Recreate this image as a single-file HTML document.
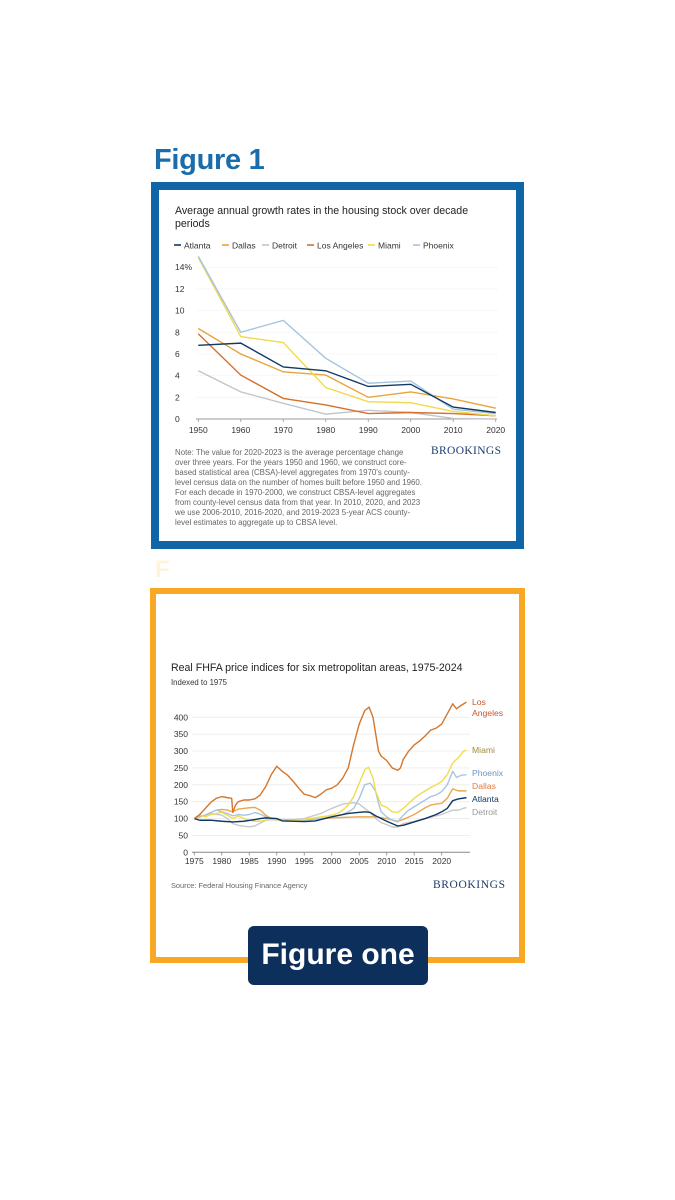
<!DOCTYPE html>
<html><head><meta charset="utf-8">
<style>
body{margin:0;width:675px;height:1200px;background:#fff;position:relative;font-family:"Liberation Sans",sans-serif;overflow:hidden}
.abs{position:absolute}
</style></head><body>
<div class="abs" style="left:154px;top:144px;font-size:29px;font-weight:bold;color:#1a6dab;letter-spacing:-0.3px">Figure 1</div>
<div class="abs" style="left:151px;top:182px;width:357px;height:351px;border:8px solid #0f65a6;background:#fff"></div>
<div class="abs" style="left:155px;top:556px;font-size:24px;font-weight:bold;color:#fff3dc">F</div>
<div class="abs" style="left:150px;top:588px;width:363px;height:363px;border:6px solid #f9a825;background:#fff"></div>
<div class="abs" style="left:248px;top:926px;width:180px;height:59px;border-radius:6px;background:#0d2f5c;color:#fff;font-size:30px;font-weight:bold;text-align:center;line-height:57px">Figure one</div>

<svg class="abs" style="left:0;top:0" width="675" height="1200">
<g id="c1"></g>
<g id="c2"></g>
</svg>

<script>
// ---- Chart 1 data ----
const decades=[1950,1960,1970,1980,1990,2000,2010,2020];
const c1Ticks=[0,2,4,6,8,10,12,14];
const atlanta1=[6.8,7.0,4.8,4.45,3.0,3.2,1.1,0.6];
const dallas1=[8.35,6.0,4.35,4.05,2.0,2.5,1.85,1.0];
const detroit1=[4.45,2.5,1.45,0.45,0.8,0.6,0.05,0.0];
const la1=[7.85,4.05,1.9,1.3,0.5,0.6,0.5,0.3];
const miami1=[14.9,7.6,7.05,2.9,1.6,1.5,0.7,0.3];
const phoenix1=[15.0,8.0,9.1,5.6,3.3,3.5,0.9,0.5];
const c1Names=["Atlanta","Dallas","Detroit","Los Angeles","Miami","Phoenix"];

// ---- Chart 2 data ----
const c2Ticks=[0,50,100,150,200,250,300,350,400];
const c2XTicks=[1975,1980,1985,1990,1995,2000,2005,2010,2015,2020];
const laYears=[1975,1976,1977,1978,1979,1980,1981,1981.8,1982,1982.5,1983,1984,1985,1986,1987,1988,1989,1990,1991,1992,1993,1994,1995,1996,1997,1998,1999,2000,2001,2002,2003,2004,2005,2006,2006.8,2007.5,2008,2008.5,2009,2010,2011,2012,2012.5,2013,2014,2015,2016,2017,2018,2019,2020,2021,2022,2022.7,2023.5,2024.5];
const laVals=[100,112,130,148,160,165,162,160,118,140,150,155,155,158,170,195,230,255,240,228,210,190,172,168,162,172,185,190,200,220,250,320,380,420,430,400,350,300,285,272,250,243,250,275,300,318,330,345,362,368,380,410,440,425,435,445];
const miYears=[1975,1976,1977,1978,1979,1980,1981,1982,1983,1984,1985,1986,1987,1988,1989,1990,1991,1992,1993,1994,1995,1996,1997,1998,1999,2000,2001,2002,2003,2004,2005,2006,2006.7,2007.5,2008,2009,2010,2011,2012,2013,2014,2015,2016,2017,2018,2019,2020,2021,2022,2023,2024,2024.5];
const miVals=[100,110,105,112,115,118,110,100,108,100,95,92,92,96,98,97,93,93,94,95,98,100,102,105,107,110,115,125,140,165,205,245,252,220,180,140,133,120,118,130,145,160,172,182,192,200,210,230,265,280,300,303];
const phYears=[1975,1977,1978,1979,1980,1981,1982,1983,1984,1985,1986,1987,1988,1989,1990,1992,1995,1998,2000,2002,2003,2004,2005,2006,2007,2008,2008.5,2009,2010,2011,2012,2013,2014,2015,2016,2017,2018,2019,2020,2021,2022,2022.7,2023.5,2024.5];
const phVals=[100,110,118,125,120,115,108,112,110,112,118,113,105,100,97,93,95,100,105,112,120,130,160,200,205,180,145,120,105,95,90,110,125,135,145,155,165,170,180,200,240,222,228,230];
const daYears=[1975,1977,1978,1979,1980,1981,1982,1983,1984,1985,1986,1987,1988,1989,1990,1992,1995,2000,2005,2008,2010,2012,2013,2015,2016,2017,2018,2019,2020,2021,2022,2023,2024.5];
const daVals=[100,110,118,125,127,125,120,128,130,132,133,125,110,100,96,94,96,102,105,105,100,92,97,112,122,132,140,143,145,160,188,182,182];
const atYears=[1975,1976,1978,1980,1982,1984,1986,1987,1988,1990,1991,1995,1997,2000,2003,2006,2007,2008,2009,2010,2011,2012,2013,2015,2017,2019,2020,2021,2022,2023,2024.5];
const atVals=[100,95,95,92,90,92,97,100,102,100,93,91,93,105,115,120,118,108,100,92,85,78,80,90,100,112,120,130,153,158,162];
const deYears=[1975,1978,1980,1981,1982,1983,1985,1986,1988,1990,1993,1995,1998,2000,2002,2004,2005,2006,2007,2008,2009,2010,2011,2012,2013,2015,2017,2019,2020,2022,2023,2024.5];
const deVals=[100,115,110,100,85,80,75,78,95,97,97,100,115,130,143,147,143,130,118,100,88,82,75,75,85,92,100,108,112,125,125,133];

const NS="http://www.w3.org/2000/svg";
function mk(parent,tag,attrs,text){const e=document.createElementNS(NS,tag);for(const k in attrs)e.setAttribute(k,attrs[k]);if(text!==undefined)e.textContent=text;parent.appendChild(e);return e;}
const FONT='"Liberation Sans", sans-serif';

// Chart 1
const g1=document.getElementById('c1');
const x1=v=>198.3+(v-1950)*(297.4/70);
const y1=v=>419-v*10.84;
let t=mk(g1,'text',{x:175,y:214,'font-size':10.6,fill:'#222','font-family':FONT},'Average annual growth rates in the housing stock over decade');

t=mk(g1,'text',{x:175,y:227,'font-size':10.6,fill:'#222','font-family':FONT},'periods');

const c1Colors=["#103a66","#e9a43c","#c2c5cc","#d4702b","#f2da4a","#a6c3df"];
const legX=[174,222,262,307,368,413];
c1Names.forEach((n,i)=>{
  const lg=mk(g1,'g',{});
  
  mk(lg,'line',{x1:legX[i],x2:legX[i]+7,y1:245,y2:245,stroke:c1Colors[i],'stroke-width':1.6});
  mk(lg,'text',{x:legX[i]+10,y:248.5,'font-size':8.5,fill:'#333','font-family':FONT},n);
});
c1Ticks.forEach(v=>{
  const gl=mk(g1,'line',{x1:196,x2:497,y1:y1(v),y2:y1(v),stroke:v===0?'#999':'#ececec','stroke-width':v===0?1:0.8,'stroke-dasharray':v===0?'':'1 1'});
  
  const tl=mk(g1,'text',{x:175,y:y1(v)+3,'font-size':8.5,fill:'#333','font-family':FONT},v===14?'14%':String(v));
  
});
decades.forEach(d=>{
  const tl=mk(g1,'text',{x:x1(d),y:433,'font-size':8.5,fill:'#333','text-anchor':'middle','font-family':FONT},String(d));
  
  mk(g1,'line',{x1:x1(d),x2:x1(d),y1:419,y2:422,stroke:'#999','stroke-width':0.8});
});
const s1=[detroit1,la1,dallas1,miami1,phoenix1,atlanta1];
const s1c=["#c2c5cc","#d4702b","#e9a43c","#f2da4a","#a6c3df","#103a66"];
const s1n=["detroit","los-angeles","dallas","miami","phoenix","atlanta"];
s1.forEach((arr,i)=>{
  const p=mk(g1,'polyline',{points:arr.map((v,j)=>x1(decades[j])+','+y1(v)).join(' '),fill:'none',stroke:s1c[i],'stroke-width':1.4});
  
});
const note=["Note: The value for 2020-2023 is the average percentage change","over three years. For the years 1950 and 1960, we construct core-","based statistical area (CBSA)-level aggregates from 1970's county-","level census data on the number of homes built before 1950 and 1960.","For each decade in 1970-2000, we construct CBSA-level aggregates","from county-level census data from that year. In 2010, 2020, and 2023","we use 2006-2010, 2016-2020, and 2019-2023 5-year ACS county-","level estimates to aggregate up to CBSA level."];
const ng=mk(g1,'g',{});
note.forEach((l,i)=>mk(ng,'text',{x:175,y:455+i*10,'font-size':7.9,fill:'#666','font-family':FONT},l));
t=mk(g1,'text',{x:431,y:454,'font-size':11.5,fill:'#1c3b6c','font-family':'"Liberation Serif", serif','textLength':70},'BROOKINGS');


// Chart 2
const g2=document.getElementById('c2');
const x2=v=>194.3+(v-1975)*(247.4/45);
const y2=v=>852.3-v*(135/400);
t=mk(g2,'text',{x:171,y:671,'font-size':10.6,fill:'#222','font-family':FONT},'Real FHFA price indices for six metropolitan areas, 1975-2024');

t=mk(g2,'text',{x:171,y:685,'font-size':7.8,fill:'#333','font-family':FONT},'Indexed to 1975');

c2Ticks.forEach(v=>{
  const gl=mk(g2,'line',{x1:192,x2:470,y1:y2(v),y2:y2(v),stroke:v===0?'#888':'#ececec','stroke-width':v===0?1:0.8});
  
  const tl=mk(g2,'text',{x:188,y:y2(v)+3,'font-size':8.5,fill:'#333','text-anchor':'end','font-family':FONT},String(v));
  
});
c2XTicks.forEach(d=>{
  mk(g2,'line',{x1:x2(d),x2:x2(d),y1:852.3,y2:855.5,stroke:'#888','stroke-width':0.8});
  const tl=mk(g2,'text',{x:x2(d),y:864,'font-size':8.5,fill:'#333','text-anchor':'middle','font-family':FONT},String(d));
  
});
const s2=[[deYears,deVals,"#c7c9cf","detroit"],[daYears,daVals,"#eaa84a","dallas"],[phYears,phVals,"#a9c5e0","phoenix"],[miYears,miVals,"#f0dc4c","miami"],[atYears,atVals,"#0f3762","atlanta"],[laYears,laVals,"#d4762c","los-angeles"]];
s2.forEach(s=>{
  const p=mk(g2,'polyline',{points:s[0].map((yr,j)=>x2(yr)+','+y2(s[1][j])).join(' '),fill:'none',stroke:s[2],'stroke-width':1.4,'stroke-linejoin':'round'});
  
});
const labs=[["Los",705,"#c8552d"],["Angeles",716,"#c8552d"],["Miami",753,"#a08a3c"],["Phoenix",776,"#6a95c2"],["Dallas",789,"#e07b3e"],["Atlanta",802,"#0f3762"],["Detroit",815,"#999"]];
labs.forEach(l=>{
  const tl=mk(g2,'text',{x:472,y:l[1],'font-size':8.6,fill:l[2],'font-family':FONT},l[0]);
  
});
t=mk(g2,'text',{x:171,y:888,'font-size':7.4,fill:'#666','font-family':FONT},'Source: Federal Housing Finance Agency');

t=mk(g2,'text',{x:433,y:888,'font-size':11.5,fill:'#1c3b6c','font-family':'"Liberation Serif", serif','textLength':72},'BROOKINGS');

</script>
</body></html>
